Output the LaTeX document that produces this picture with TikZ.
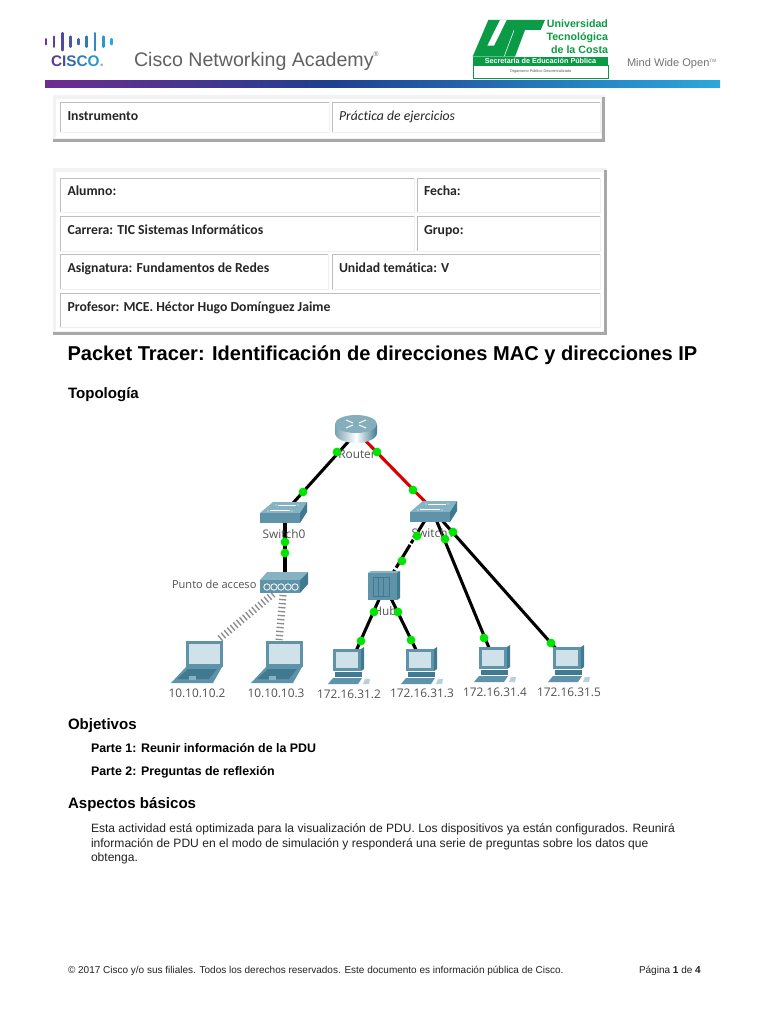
\documentclass[tikz,border=0pt]{standalone}
\usepackage{fontspec}
\setmainfont{Liberation Sans}
\newfontfamily\calfont[Ligatures=NoCommon]{Carlito}
\newfontfamily\figfont{Open Sans}
\newfontfamily\cisfont[LetterSpace=13]{Liberation Sans}
\definecolor{utgreen}{HTML}{0B9A45}
\definecolor{devA}{HTML}{5E93A9}
\definecolor{devB}{HTML}{86B3C4}
\definecolor{devC}{HTML}{3F7A90}
\definecolor{scr}{HTML}{CFE1E9}
\definecolor{cellA}{HTML}{BEBEBE}
\definecolor{cellB}{HTML}{F0F0F0}
\definecolor{shad}{HTML}{A8A8A8}
\definecolor{txt}{HTML}{222222}
\definecolor{barA}{HTML}{6E2C8F}
\definecolor{barB}{HTML}{1F3F8F}
\definecolor{barC}{HTML}{2BA8DE}
\tikzset{
  every node/.style={inner sep=0pt,outer sep=0pt},
  lbl/.style={anchor=base west,text=txt},
  celltxt/.style={anchor=base west,text=black!85,font=\calfont\fontsize{10.3}{12}\selectfont},
  head/.style={lbl,text=black,font=\bfseries\fontsize{11.3}{13}\selectfont},
  part/.style={lbl,text=black,font=\bfseries\fontsize{9.3}{11}\selectfont},
  bodyt/.style={lbl,font=\fontsize{9.05}{11}\selectfont},
  foot/.style={lbl,font=\fontsize{7.5}{9}\selectfont},
  figl/.style={anchor=base,text=black!68,font=\figfont\fontsize{8.9}{10}\selectfont},
  dev/.style={minimum size=8pt},
  link/.style={line width=2.3pt,black},
  radio/.style={line width=5.4pt,black!45,dash pattern=on 1pt off 2pt},
  ldot/.style={circle,fill=green!90!black,minimum size=6.6pt},
  swicon/.pic={
    \fill[devB] (0,0)--(13,-11)--(47,-11)--(40,0)--cycle;
    \fill[devA] (0,0) rectangle (40,10);
    \fill[devC] (40,0)--(47,-11)--(47,-1)--(40,10)--cycle;
    \fill[white] (8,-2) circle (.7) (32,-2) circle (.7) (16,-8) circle (.7) (38,-8) circle (.7);
    \draw[white,line width=.3pt] (10,-3)--(30,-3) (18,-8)--(36,-8);
  },
  apicon/.pic={
    \fill[devB] (0,0)--(7,-8)--(48,-8)--(40,0)--cycle;
    \fill[devA] (0,0) rectangle (40,13);
    \fill[devC] (40,0)--(48,-8)--(48,4)--(40,13)--cycle;
    \foreach \k in {7,14,21,28,35} \draw[white,line width=.6pt] (\k,7) circle (3.2);
  },
  routericon/.pic={
    \shade[left color=devC!70!white,right color=devC,middle color=white]
      (-21,-8) -- (-21,1) arc[start angle=180,end angle=0,x radius=21,y radius=10]
      -- (21,-8) -- cycle;
    \fill[devB!90!gray] (0,-8) ellipse (21 and 9);
    \draw[white,line width=.7pt] (-10,-12)--(-3,-9) (3,-7)--(10,-4) (-10,-4)--(-3,-7) (3,-9)--(10,-12);
  },
  hubicon/.pic={
    \fill[devB] (0,0)--(3,-2)--(32,-2)--(29,0)--cycle;
    \fill[devA] (0,0) rectangle (29,27);
    \fill[devC] (29,0)--(32,-2)--(32,25)--(29,27)--cycle;
    \draw[devC,line width=.5pt] (5,4) rectangle (21,23) (10,4)--(10,23) (15,4)--(15,23);
  },
  lapicon/.pic={
    \fill[devA] (-15,42)--(27,42)--(36,26)--(0,26)--cycle;
    \fill[devC] (-9,38)--(23,38)--(31,28)--(2,28)--cycle;
    \fill[devA] (0,0) rectangle (37,26);
    \fill[scr] (3,3) rectangle (34,23);
    \fill[devB] (3,35) rectangle (10,39);
  },
  pcicon/.pic={
    \fill[devC] (28,0)--(31,-2)--(31,20)--(28,22)--cycle;
    \fill[devA] (0,0) rectangle (28,22);
    \fill[scr] (3,3) rectangle (25,19);
    \fill[devC] (2,23) rectangle (29,28);
    \fill[devA] (-5,35)--(25,35)--(29,29)--(0,29)--cycle;
    \fill[devB!60!white] (30,35)--(36,35)--(37,30)--(32,30)--cycle;
  }
}
\begin{document}
\begin{tikzpicture}[x=0.75pt,y=-0.75pt]
\useasboundingbox (0,0) rectangle (768,1024);
\fill[white] (0,0) rectangle (768,1024);
% ---------- Cisco header
\foreach \xx/\hh/\cc in {46/2.5/6B3A96,54.2/5/60409A,62.7/8.5/53489F,70.7/5/4A55A6,78.5/2.5/3F68B0,86.7/5/3478BC,95/8.5/2F88C6,103.3/5/2C98D2,111.7/2.5/2AA7DC}{
  \definecolor{barc}{HTML}{\cc}
  \draw[barc,line width=1.9pt,line cap=round] (\xx,41.7-\hh) -- (\xx,41.7+\hh);
}
\node[lbl] (ciscoword) at (51,67) {\cisfont\bfseries\fontsize{11.5}{12}\selectfont\textcolor[HTML]{5B3A96}{C}\textcolor[HTML]{44509F}{I}\textcolor[HTML]{3A68AE}{S}\textcolor[HTML]{2F80B8}{C}\textcolor[HTML]{2A98C8}{O}\textcolor{black!35}{.}};
\node[lbl,text=black!62,font=\fontsize{14.7}{16}\selectfont] (cna) at (134,67) {Cisco Networking Academy\raisebox{1.05ex}{\fontsize{5}{6}\selectfont ®}};
\node[lbl,text=black!55,font=\fontsize{8.3}{10}\selectfont] (mwo) at (627,67) {Mind Wide Open\raisebox{.8ex}{\fontsize{3.5}{4}\selectfont TM}};
% ---------- UT logo
\begin{scope}[shift={(470,15)},x=0.25pt,y=-0.25pt]
  \fill[utgreen] (55,15)--(225,15)--(212,45)--(165,45)--(135,125)--(8,125)--cycle;
  \fill[white] (90,15)--(110,15)--(72,92)--(52,92)--cycle;
  \draw[white,line width=.4pt] (132,46)--(103,123);
\end{scope}
\fill[utgreen] (473,57) rectangle (608,65);
\draw[utgreen,line width=.5pt] (473,65) rectangle (608,78);
\node[anchor=base east,text=utgreen,font=\bfseries\fontsize{8}{9}\selectfont] (ut1) at (608,28) {Universidad};
\node[anchor=base east,text=utgreen,font=\bfseries\fontsize{8}{9}\selectfont] (ut2) at (608,41) {Tecnológica};
\node[anchor=base east,text=utgreen,font=\bfseries\fontsize{8}{9}\selectfont] (ut3) at (608,54) {de la Costa};
\node[anchor=base,text=white,font=\bfseries\fontsize{5.4}{6}\selectfont] (ut4) at (540.5,63.5) {Secretaría de Educación Pública};
\node[anchor=base,text=black!65,font=\fontsize{2.9}{3}\selectfont] (ut5) at (540.5,73) {Organismo Público Descentralizado};
% ---------- Gradient bar
\shade[left color=barA,right color=barB] (45,81) rectangle (330,88);
\shade[left color=barB,right color=barC] (330,81) rectangle (720,88);
% ---------- Tables
\newcommand{\cellbox}[4]{%
  \draw[cellB,line width=.6pt] (#3,#2)--(#3,#4)--(#1,#4);
  \draw[cellA,line width=.7pt] (#1,#4)--(#1,#2)--(#3,#2);
}
\fill[black!5] (53,95) rectangle (605,142);
\fill[white] (56,99) rectangle (601,138);
\fill[shad] (602,97) rectangle (605,142);
\fill[shad] (53,139) rectangle (605,142);
\cellbox{60}{102}{329}{132}
\cellbox{332}{102}{600}{132}
\fill[black!5] (53,168) rectangle (607,335);
\fill[white] (56,172) rectangle (604,331);
\fill[shad] (604,170) rectangle (607,335);
\fill[shad] (53,332) rectangle (607,335);
\cellbox{60}{178}{414}{212}
\cellbox{417}{178}{600}{212}
\cellbox{60}{216}{414}{251}
\cellbox{417}{216}{600}{251}
\cellbox{60}{254}{328}{289}
\cellbox{332}{254}{600}{289}
\cellbox{60}{293}{600}{327}
\node[celltxt] (t1) at (67.5,120) {\bfseries Instrumento};
\node[celltxt] (t2) at (339,120) {\itshape Práctica de ejercicios};
\node[celltxt] (t3) at (67.5,195.5) {\bfseries Alumno:};
\node[celltxt] (t4) at (424,195.5) {\bfseries Fecha:};
\node[celltxt] (t5) at (67.5,234) {\bfseries Carrera: TIC Sistemas Informáticos};
\node[celltxt] (t6) at (424,234) {\bfseries Grupo:};
\node[celltxt] (t7) at (67.5,272.5) {\bfseries Asignatura: Fundamentos de Redes};
\node[celltxt] (t8) at (339,272.5) {\bfseries Unidad temática: V};
\node[celltxt] (t9) at (67.5,311) {\bfseries Profesor: MCE. Héctor Hugo Domínguez Jaime};
% ---------- Body text
\node[lbl,text=black,font=\bfseries\fontsize{15.05}{17}\selectfont] (title) at (67.5,360) {Packet Tracer: Identificación de direcciones MAC y direcciones IP};
\node[head] (topo) at (68,398) {Topología};
\node[head] (obj) at (68,729.5) {Objetivos};
\node[part] (p1) at (91,752) {Parte 1: Reunir información de la PDU};
\node[part] (p2) at (91,775) {Parte 2: Preguntas de reflexión};
\node[head] (asp) at (68,808.5) {Aspectos básicos};
\node[bodyt] (b1) at (91,832) {Esta actividad está optimizada para la visualización de PDU. Los dispositivos ya están configurados. Reunirá};
\node[bodyt] (b2) at (91,847) {información de PDU en el modo de simulación y responderá una serie de preguntas sobre los datos que};
\node[bodyt] (b3) at (91,861) {obtenga.};
\node[foot] (f1) at (68,973.5) {© 2017 Cisco y/o sus filiales. Todos los derechos reservados. Este documento es información pública de Cisco.};
\node[foot] (f2) at (639,973.5) {Página \textbf{1} de \textbf{4}};
% ---------- Topology nodes
\node[dev] (router) at (357,432) {};
\node[dev] (sw0) at (285,512) {};
\node[dev] (sw1) at (440,517) {};
\node[dev] (ap) at (285,582) {};
\node[dev] (hub) at (385,586) {};
\node[dev] (lap1) at (218,640) {};
\node[dev] (lap2) at (279,640) {};
\node[dev] (pc1) at (352,660) {};
\node[dev] (pc2) at (421,660) {};
\node[dev] (pc3) at (494,660) {};
\node[dev] (pc4) at (566,660) {};
% links
\draw[link] (router.center) -- (sw0.center);
\draw[link,red!85!black] (router.center) -- (sw1.center);
\draw[link] (sw0.center) -- (ap.center);
\draw[link,dash pattern=on 13pt off 1.5pt on 4pt off 1.5pt on 3pt off 1.5pt on 20pt off 2pt] ([shift={(-13,0)}]sw1.center) -- (hub.center);
\draw[link] (hub.center) -- (pc1.center);
\draw[link] (hub.center) -- (pc2.center);
\draw[link] ([shift={(-5,0)}]sw1.center) -- (pc3.center);
\draw[link] ([shift={(-1,0)}]sw1.center) -- (pc4.center);
\draw[radio] ([shift={(-12,12)}]ap.center) -- (lap1.center);
\draw[radio] ([shift={(-2,13)}]ap.center) -- (lap2.center);
% icons
\pic at (356,432) {routericon};
\pic at (260,513) {swicon};
\pic at (410,512) {swicon};
\pic at (260,580) {apicon};
\pic at (368,573) {hubicon};
\pic at (186,641) {lapicon};
\pic at (266,641) {lapicon};
\pic at (333,649) {pcicon};
\pic at (406,649) {pcicon};
\pic at (479,647) {pcicon};
\pic at (553,647) {pcicon};
% labels
\node[figl] (lrouter) at (357,458) {Router};
\node[figl] (lsw0) at (284,538) {Switch0};
\node[figl] (lsw1) at (433,537) {Switch1};
\node[figl,anchor=base west,font=\figfont\fontsize{8.3}{10}\selectfont] (lap) at (172,588) {Punto de acceso};
\node[figl] (lhub) at (385,615) {Hub};
\node[figl] (il1) at (197,697) {10.10.10.2};
\node[figl] (il2) at (276,697) {10.10.10.3};
\node[figl] (il3) at (349,698) {172.16.31.2};
\node[figl] (il4) at (422,697) {172.16.31.3};
\node[figl] (il5) at (495,696) {172.16.31.4};
\node[figl] (il6) at (569,696) {172.16.31.5};
% link lights
\foreach \xx/\yy [count=\i] in {337/452,303/492,377/452,413/490,285/542,285/553,417/536,402/561,374/612,361/641,398/612,411/640,445/539,484/638,453/532,551/643}
  \node[ldot] (light\i) at (\xx,\yy) {};
\end{tikzpicture}
\end{document}
